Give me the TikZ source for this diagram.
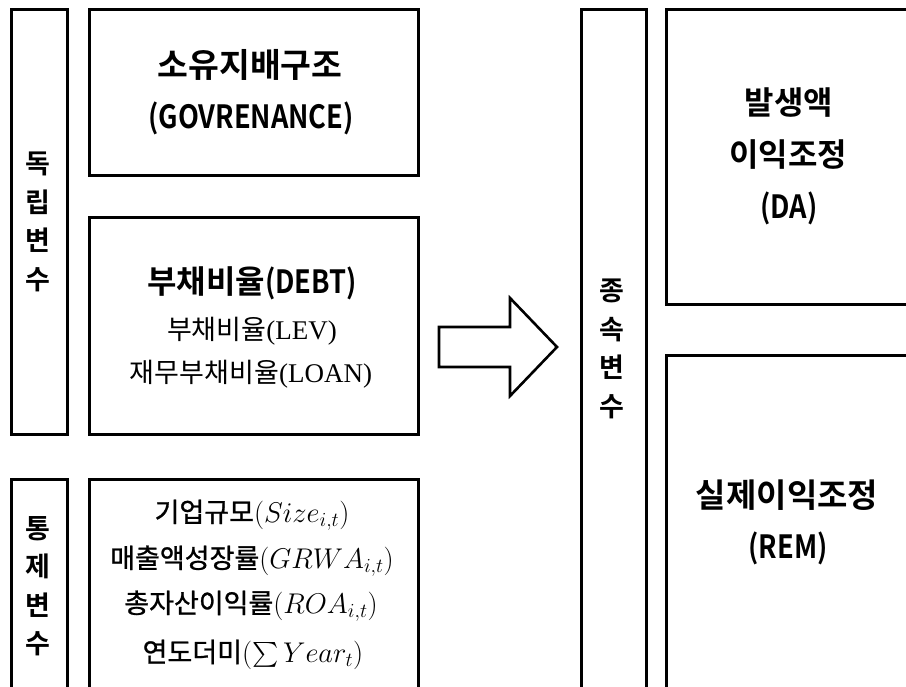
\RequirePackage{fix-cm}
\documentclass[tikz,border=0pt]{standalone}
\usepackage{exscale}
\usepackage{fontspec}
\usepackage{graphicx}
\newfontfamily\kr{Noto Sans CJK KR}[BoldFont={Noto Sans CJK KR Bold}]
\newfontfamily\krmed{Noto Sans CJK KR}[FakeBold=1.0]
\newfontfamily\tms{Liberation Serif}
\newcommand{\cond}[1]{\scalebox{0.85}[1]{#1}}
\newcommand{\mth}[1]{{\fontsize{28.5}{30}\selectfont$#1$}}
\tikzset{
  box/.style={draw, line width=2.6pt, rectangle, inner sep=0pt, anchor=north west},
  vlab/.style={font={\kr\bfseries\fontsize{27}{38.5}\selectfont}, align=center, inner sep=0pt},
  tb/.style={font={\kr\bfseries\fontsize{32}{36}\selectfont}, inner sep=0pt, anchor=base},
  rt/.style={font={\kr\fontsize{27}{30}\selectfont}, inner sep=0pt, anchor=base},
  ct/.style={font={\krmed\fontsize{27}{30}\selectfont}, inner sep=0pt, anchor=base},
  bigarrow/.style={draw, line width=2.6pt, line join=miter, fill=white}
}
\begin{document}
\begin{tikzpicture}[x=1pt, y=-1pt]
\useasboundingbox (0,0) rectangle (906,687);
% boxes
\node[box, minimum width=56pt, minimum height=425pt] (indep) at (10,8) {};
\node[box, minimum width=329pt, minimum height=166pt] (gov) at (88,8) {};
\node[box, minimum width=329pt, minimum height=217pt] (debt) at (88,216) {};
\node[box, minimum width=56pt, minimum height=209pt] (ctrl) at (10,478) {};
\node[box, minimum width=329pt, minimum height=209pt] (ctrlbox) at (88,478) {};
\node[box, minimum width=65pt, minimum height=679pt] (dep) at (580,8) {};
\node[box, minimum width=250pt, minimum height=295pt] (da) at (665,8) {};
\node[box, minimum width=250pt, minimum height=333pt] (rem) at (665,354) {};
% vertical labels
\node[vlab] (indeplab) at (38,222) {독\\립\\변\\수};
\node[vlab] (ctrllab) at (38,586) {통\\제\\변\\수};
\node[vlab] (deplab) at (612,349) {종\\속\\변\\수};
% governance
\node[tb, font={\kr\bfseries\fontsize{33.5}{36}\selectfont}] (gov1) at (250,78) {소유지배구조};
\node[tb] (gov2) at (251,129) {\cond{(GOVRENANCE)}};
% debt
\node[tb] (debt1) at (252,294) {부채비율\cond{(DEBT)}};
\node[rt] (debt2) at (252,340) {부채비율{\tms(LEV)}};
\node[rt] (debt3) at (251,383) {재무부채비율{\tms(LOAN)}};
% controls
\node[ct] (c1) at (252,522) {기업규모\mth{(Size_{i,t})}};
\node[ct] (c2) at (252,568) {매출액성장률\mth{(GRWA_{i,t})}};
\node[ct] (c3) at (251,613) {총자산이익률\mth{(ROA_{i,t})}};
\node[ct] (c4) at (253,662) {연도더미\mth{(\sum Year_t)}};
% DA
\node[tb] (da1) at (789,115) {발생액};
\node[tb] (da2) at (788,167) {이익조정};
\node[tb] (da3) at (789,219) {\cond{(DA)}};
% REM
\node[tb, font={\kr\bfseries\fontsize{33}{36}\selectfont}] (rem1) at (787,507) {실제이익조정};
\node[tb] (rem2) at (788,558) {\cond{(REM)}};
% block arrow
\draw[bigarrow] (439,327) -- (510,327) -- (510,298) -- (557,347) -- (510,396) -- (510,367) -- (439,367) -- cycle;
\end{tikzpicture}
\end{document}
